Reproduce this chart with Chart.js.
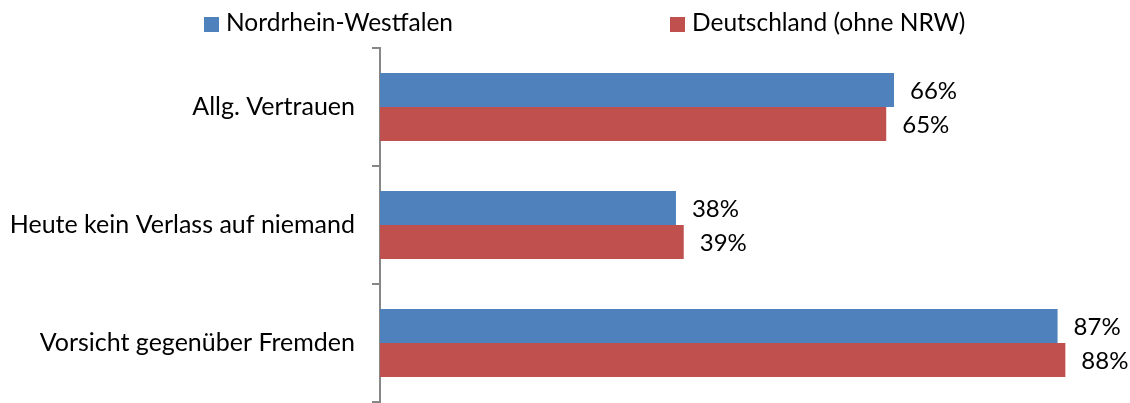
<!DOCTYPE html>
<html>
<head>
<meta charset="utf-8">
<title>Vertrauen</title>
<script src="https://cdn.jsdelivr.net/npm/chart.js@4"></script>
<style>
  html, body { margin: 0; padding: 0; background: #fff; }
  #wrap { width: 1130px; height: 403px; }
</style>
</head>
<body>
<div id="wrap"><canvas id="vertrauenChart" width="1130" height="403"></canvas></div>
<script>
const categories = ['Allg. Vertrauen', 'Heute kein Verlass auf niemand', 'Vorsicht gegenüber Fremden'];
const seriesNames = ['Nordrhein-Westfalen', 'Deutschland (ohne NRW)'];
const nrwValues = [66, 38, 87];
const restValues = [65, 39, 88];
const colors = ['#4F81BD', '#C0504D'];

const fontFamily = 'Lato, "Open Sans", sans-serif';

// Prozentwerte rechts neben die Balken schreiben
const valueLabels = {
    id: 'valueLabels',
    afterDatasetsDraw(chart) {
        const ctx = chart.ctx;
        ctx.save();
        ctx.font = '24px ' + fontFamily;
        ctx.fillStyle = '#000';
        ctx.textBaseline = 'middle';
        ctx.textAlign = 'left';
        chart.data.datasets.forEach((ds, i) => {
            chart.getDatasetMeta(i).data.forEach((bar, j) => {
                ctx.fillText(ds.data[j] + '%', bar.x + 16, bar.y + 1);
            });
        });
        ctx.restore();
    }
};

// Legende oben, die beiden Einträge weit auseinander
const topLegend = {
    id: 'topLegend',
    afterDraw(chart) {
        const ctx = chart.ctx;
        const starts = [204, 670];
        ctx.save();
        ctx.font = '24.5px ' + fontFamily;
        ctx.textBaseline = 'middle';
        ctx.textAlign = 'left';
        chart.data.datasets.forEach((ds, i) => {
            ctx.fillStyle = ds.backgroundColor;
            ctx.fillRect(starts[i], 17, 15, 15);
            ctx.fillStyle = '#000';
            ctx.fillText(ds.label, starts[i] + 22, 23);
        });
        ctx.restore();
    }
};

const ctx = document.getElementById('vertrauenChart').getContext('2d');

new Chart(ctx, {
    type: 'bar',
    data: {
        labels: categories,
        datasets: [{
            label: seriesNames[0],
            data: nrwValues,
            backgroundColor: colors[0],
            categoryPercentage: 0.576,
            barPercentage: 1.0
        }, {
            label: seriesNames[1],
            data: restValues,
            backgroundColor: colors[1],
            categoryPercentage: 0.576,
            barPercentage: 1.0
        }]
    },
    options: {
        indexAxis: 'y',
        responsive: false,
        animation: false,
        layout: { padding: { top: 48, right: 0, bottom: 1, left: 0 } },
        plugins: {
            legend: { display: false },
            tooltip: { enabled: false }
        },
        scales: {
            x: {
                display: false,
                min: 0,
                max: 96.3
            },
            y: {
                afterFit(scale) {
                    scale.width = 380;
                    // kein zusätzlicher Rand oben/unten durch die Beschriftung
                    scale.paddingTop = 0;
                    scale.paddingBottom = 0;
                },
                border: { display: true, color: '#878787', width: 2 },
                grid: {
                    display: true,
                    drawOnChartArea: false,
                    drawTicks: true,
                    tickLength: 8,
                    color: '#878787',
                    lineWidth: 2,
                    offset: true
                },
                ticks: {
                    color: '#000',
                    padding: 17,
                    font: { family: fontFamily, size: 25 }
                }
            }
        }
    },
    plugins: [valueLabels, topLegend]
});
</script>
</body>
</html>
